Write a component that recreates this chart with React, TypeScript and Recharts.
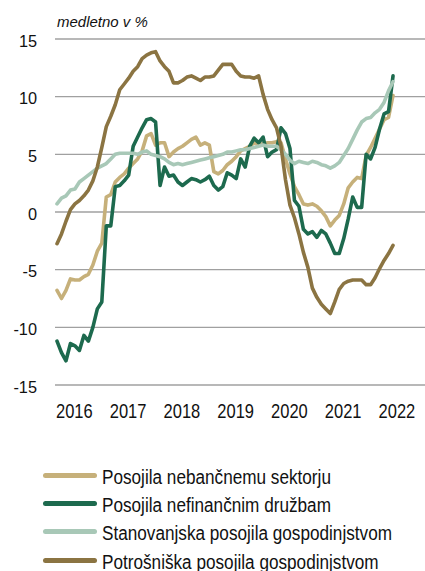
import React from 'react';
import { LineChart, Line, XAxis, YAxis, CartesianGrid } from 'recharts';

// monthly, Jan 2016 .. Apr 2022, y/y in %
const yearLabels = ['2016', '2017', '2018', '2019', '2020', '2021', '2022'];

const nebancnemu = [
  -6.8, -7.5, -6.8, -5.8, -5.9, -5.9, -5.6, -5.4, -4.6, -3.4, -2.7, 1.3,
  1.5, 2.6, 3.0, 3.3, 3.8, 4.2, 4.6, 5.3, 6.6, 6.8, 5.8, 6.0,
  6.0, 4.8, 5.2, 5.5, 5.7, 6.0, 6.3, 6.5, 5.8, 6.0, 5.8, 3.5,
  3.3, 3.6, 4.1, 4.4, 4.8, 5.3, 5.5, 5.7, 6.0, 5.9, 5.9, 6.0,
  6.0, 6.1, 6.0, 4.6, 3.3, 2.2, 1.5, 0.7, 0.6, 0.7, 0.5, 0.1,
  -0.4, -1.2, -0.7, -0.3, 0.7, 2.1, 2.6, 3.0, 2.9, 4.9, 5.6, 6.4,
  7.2, 8.0, 8.2, 10.1,
];

const nefinancnim = [
  -11.2, -12.2, -12.9, -11.4, -11.6, -12.0, -10.7, -11.2, -10.0, -8.4, -7.8, -1.2,
  -1.2, 2.2, 2.3, 2.7, 3.2, 5.7, 6.5, 7.3, 8.0, 8.1, 7.8, 2.3,
  3.9, 3.1, 3.2, 2.6, 2.3, 2.6, 2.9, 2.8, 2.6, 2.8, 3.1, 2.3,
  1.9, 2.2, 3.4, 3.2, 2.9, 4.6, 3.9, 5.7, 6.4, 6.0, 6.5, 4.8,
  5.2, 5.4, 7.3, 6.8, 5.5, 1.0, 0.5, -1.5, -1.9, -1.7, -2.2, -1.6,
  -1.9, -2.7, -3.6, -3.6, -2.3, -0.6, 1.3, 0.4, 0.4, 5.0, 4.6, 5.6,
  7.2, 8.5, 8.7, 11.8,
];

const stanovanjska = [
  0.7, 1.2, 1.4, 1.9, 2.0, 2.6, 2.9, 3.2, 3.5, 3.8, 4.0, 4.2,
  4.6, 5.0, 5.1, 5.1, 5.1, 5.1, 5.0, 5.2, 5.3, 5.0, 4.9, 4.8,
  4.6, 4.3, 4.1, 4.2, 4.1, 4.2, 4.3, 4.4, 4.5, 4.6, 4.7, 4.8,
  4.9, 5.0, 5.2, 5.2, 5.3, 5.4, 5.4, 5.5, 5.6, 5.7, 5.8, 5.7,
  5.7, 5.7, 5.4, 5.0, 4.5, 4.2, 4.4, 4.3, 4.2, 4.4, 4.3, 4.1,
  4.0, 3.8, 4.0, 4.3, 4.9, 5.5, 6.3, 7.1, 7.8, 8.1, 8.2, 8.6,
  8.9, 9.5, 10.5, 11.3,
];

const potrosniska = [
  -2.75, -1.9, -0.8, 0.2, 0.7, 1.0, 1.4, 1.9, 2.7, 3.9, 5.6, 7.4,
  8.3, 9.3, 10.6, 11.1, 11.6, 12.2, 12.6, 13.3, 13.6, 13.8, 13.9, 13.1,
  12.6, 12.2, 11.2, 11.2, 11.4, 11.7, 11.8, 11.6, 11.4, 11.7, 11.7, 11.8,
  12.3, 12.8, 12.8, 12.8, 12.2, 11.8, 11.7, 11.7, 11.6, 11.8, 10.2, 8.9,
  8.0, 7.3, 5.7, 2.8, 0.6, -0.5, -1.9, -3.5, -4.8, -6.6, -7.4, -8.0,
  -8.4, -8.8, -7.8, -6.7, -6.2, -6.0, -5.9, -5.9, -5.9, -6.3, -6.3, -5.7,
  -4.9, -4.2, -3.6, -2.9,
];

const yTicks = [-15, -10, -5, 0, 5, 10, 15];

const series = [
  { key: 'neb', label: 'Posojila nebančnemu sektorju', values: nebancnemu, color: '#C6B07A' },
  { key: 'nef', label: 'Posojila nefinančnim družbam', values: nefinancnim, color: '#1D6A4E' },
  { key: 'sta', label: 'Stanovanjska posojila gospodinjstvom', values: stanovanjska, color: '#A8C8B7' },
  { key: 'pot', label: 'Potrošniška posojila gospodinjstvom', values: potrosniska, color: '#8B7442' },
];

const data = nebancnemu.map((_, i) => {
  const row: Record<string, number> = { i };
  series.forEach((s) => {
    row[s.key] = s.values[i];
  });
  return row;
});

const xTicks = yearLabels.map((_, k) => k * 12);

const FONT = "'Liberation Sans', Arial, sans-serif";

function YTick(props: any) {
  const { x, y, payload } = props;
  return (
    <text x={x - 18} y={y + 7.5} textAnchor="end" fontSize={16.3} fill="#111" fontFamily={FONT}>
      {payload.value}
    </text>
  );
}

function XTick(props: any) {
  const { x, y, payload } = props;
  const label = yearLabels[Math.round(payload.value / 12)];
  return (
    <text
      transform={`translate(${x - 1},${y + 33}) scale(0.786,1)`}
      fontSize={21}
      fill="#111"
      fontFamily={FONT}
    >
      {label}
    </text>
  );
}

export default function App() {
  return (
    <div
      style={{
        position: 'absolute',
        left: 0,
        top: 0,
        width: 425,
        height: 571,
        background: '#FFFFFF',
        fontFamily: FONT,
        overflow: 'hidden',
      }}
    >
      <div
        style={{
          position: 'absolute',
          left: 57,
          top: 14.3,
          fontSize: 15,
          lineHeight: '15px',
          fontStyle: 'italic',
          color: '#111',
          whiteSpace: 'nowrap',
        }}
      >
        medletno v %
      </div>

      <LineChart
        width={425}
        height={440}
        data={data}
        margin={{ top: 39, right: 0, bottom: 0, left: 0 }}
      >
        <CartesianGrid vertical={false} stroke="#A0A0A0" strokeWidth={1.3} />
        <XAxis
          dataKey="i"
          type="number"
          domain={[-0.45, 82.14]}
          ticks={xTicks}
          axisLine={false}
          tickLine={false}
          tickSize={0}
          tickMargin={0}
          height={55}
          interval={0}
          tick={<XTick />}
          allowDataOverflow
        />
        <YAxis
          domain={[-15, 15]}
          ticks={yTicks}
          axisLine={false}
          tickLine={false}
          tickSize={0}
          tickMargin={0}
          width={55}
          interval={0}
          tick={<YTick />}
        />
        {series.map((s) => (
          <Line
            key={s.key}
            dataKey={s.key}
            type="linear"
            stroke={s.color}
            strokeWidth={3.6}
            strokeLinejoin="round"
            strokeLinecap="round"
            dot={false}
            activeDot={false}
            isAnimationActive={false}
          />
        ))}
      </LineChart>

      {series.map((s, r) => {
        const lineY = 475.5 + 28.2 * r;
        return (
          <React.Fragment key={s.key}>
            <div
              style={{
                position: 'absolute',
                left: 43,
                top: lineY - 2.5,
                width: 54,
                height: 5,
                borderRadius: 2.5,
                background: s.color,
              }}
            />
            <div
              style={{
                position: 'absolute',
                left: 102,
                top: lineY - 9.5,
                fontSize: 19.5,
                lineHeight: '22px',
                color: '#111',
                whiteSpace: 'nowrap',
                transform: 'scaleX(0.88)',
                transformOrigin: 'left center',
              }}
            >
              {s.label}
            </div>
          </React.Fragment>
        );
      })}
    </div>
  );
}
